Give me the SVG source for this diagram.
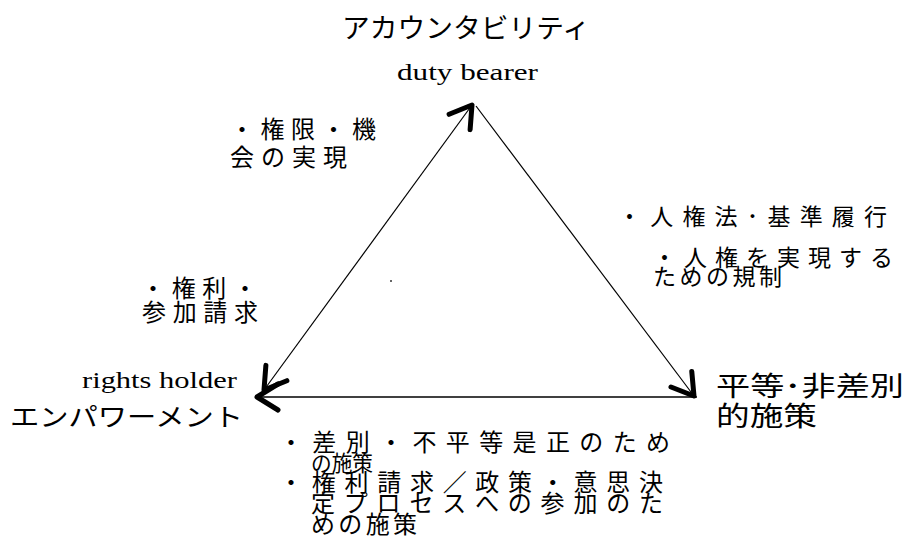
<svg xmlns="http://www.w3.org/2000/svg" width="908" height="551" viewBox="0 0 908 551">
<style>
  .jp { font-family: "Noto Sans CJK JP", "Noto Sans", sans-serif; fill: #000; }
  .en { font-family: "Liberation Serif", "DejaVu Serif", serif; fill: #000; }
  .edge { stroke: #000; fill: none; }
</style>
<defs>
  <marker id="head" markerUnits="userSpaceOnUse" viewBox="-30 -20 40 40" markerWidth="40" markerHeight="40" refX="0" refY="0" orient="auto-start-reverse" overflow="visible">
    <path d="M-21,-13 L0,0 L-21,13" fill="none" stroke="#000" stroke-width="5" stroke-linejoin="round" stroke-linecap="round"/>
  </marker>
</defs>
<rect width="908" height="551" fill="#fff"/>

<g id="connectors">
  <line class="edge" x1="264" y1="390" x2="472" y2="105" stroke-width="1.2" marker-start="url(#head)" marker-end="url(#head)"/>
  <line class="edge" x1="476" y1="106" x2="694" y2="396" stroke-width="1.2" marker-end="url(#head)"/>
  <line class="edge" x1="697" y1="397" x2="257" y2="397" stroke-width="1.6" marker-end="url(#head)"/>
</g>

<g id="node-top">
  <text class="jp" x="342" y="38" font-size="27" textLength="248" lengthAdjust="spacingAndGlyphs">アカウンタビリティ</text>
  <text class="en" x="397" y="80" font-size="23" textLength="141" lengthAdjust="spacingAndGlyphs">duty bearer</text>
</g>

<g id="node-left">
  <text class="en" x="82" y="388" font-size="23" textLength="155" lengthAdjust="spacingAndGlyphs">rights holder</text>
  <text class="jp" x="10" y="426" font-size="25" textLength="233" lengthAdjust="spacingAndGlyphs">エンパワーメント</text>
</g>

<g id="node-right">
  <text class="jp" x="716" y="396" font-size="27" textLength="188" lengthAdjust="spacingAndGlyphs">平等･非差別</text>
  <text class="jp" x="716" y="426" font-size="27" textLength="101" lengthAdjust="spacingAndGlyphs">的施策</text>
</g>

<g id="label-left-top">
  <text class="jp" x="230" y="138" font-size="24" textLength="146" lengthAdjust="spacing">・権限・機</text>
  <text class="jp" x="230" y="166" font-size="24" textLength="117" lengthAdjust="spacing">会の実現</text>
</g>

<g id="label-left-bottom">
  <text class="jp" x="141" y="297" font-size="24" textLength="116" lengthAdjust="spacing">・権利・</text>
  <text class="jp" x="142" y="321" font-size="24" textLength="116" lengthAdjust="spacing">参加請求</text>
</g>

<g id="label-right">
  <text class="jp" x="618" y="225" font-size="23" textLength="269" lengthAdjust="spacing">・人権法･基準履行</text>
  <text class="jp" x="653" y="266" font-size="23" textLength="240" lengthAdjust="spacing">・人権を実現する</text>
  <text class="jp" x="653" y="285" font-size="23" textLength="129" lengthAdjust="spacing">ための規制</text>
</g>

<g id="label-bottom">
  <text class="jp" x="279" y="451" font-size="24" textLength="391" lengthAdjust="spacing">・差別・不平等是正のため</text>
  <text class="jp" x="311" y="471" font-size="22" textLength="62" lengthAdjust="spacingAndGlyphs">の施策</text>
  <text class="jp" x="279" y="491" font-size="24" textLength="384" lengthAdjust="spacing">・権利請求／政策・意思決</text>
  <text class="jp" x="311" y="512" font-size="24" textLength="352" lengthAdjust="spacing">定プロセスへの参加のた</text>
  <text class="jp" x="311" y="533" font-size="24" textLength="106" lengthAdjust="spacing">めの施策</text>
</g>

<rect x="390" y="280" width="2" height="2" fill="#666"/>
</svg>
